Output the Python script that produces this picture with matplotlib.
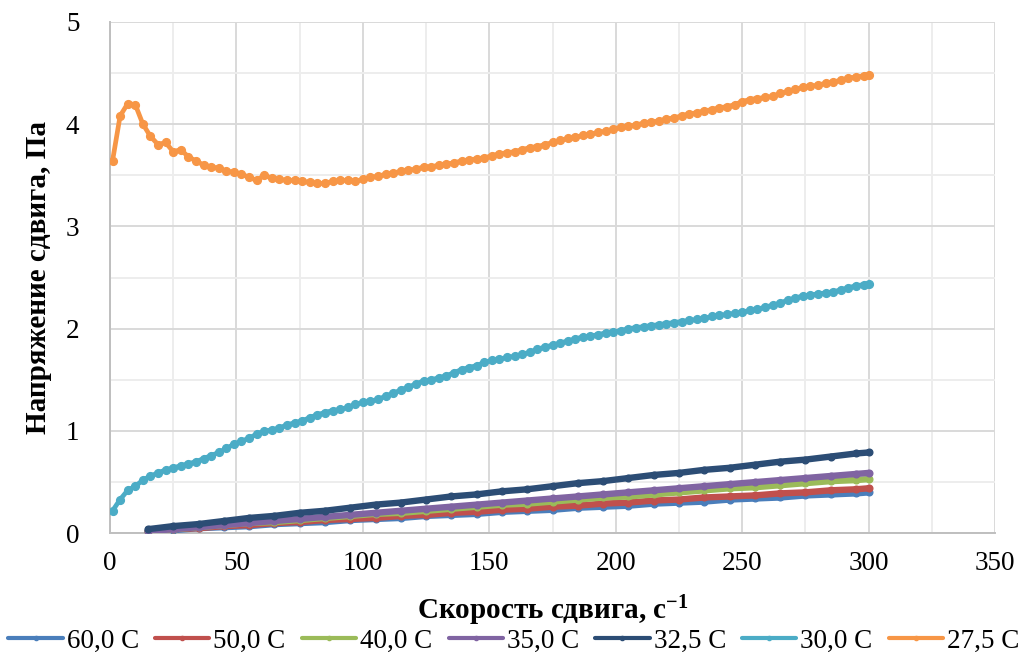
import matplotlib
matplotlib.use("Agg")
import matplotlib.pyplot as plt
from matplotlib.ticker import MultipleLocator

plt.rcParams['font.family'] = ['Liberation Serif', 'DejaVu Serif']
plt.rcParams['mathtext.fontset'] = 'custom'
plt.rcParams['mathtext.rm'] = 'Liberation Serif'
plt.rcParams['mathtext.bf'] = 'Liberation Serif:bold'
plt.rcParams['mathtext.default'] = 'bf'

# shear rate grids
x_fast = [1, 4, 7, 10, 13, 16, 19, 22, 25, 28, 31, 34, 37, 40, 43, 46, 49, 52, 55, 58,
          61, 64, 67, 70, 73, 76, 79, 82, 85, 88, 91, 94, 97, 100, 103, 106, 109, 112, 115, 118,
          121, 124, 127, 130, 133, 136, 139, 142, 145, 148, 151, 154, 157, 160, 163, 166, 169, 172, 175, 178,
          181, 184, 187, 190, 193, 196, 199, 202, 205, 208, 211, 214, 217, 220, 223, 226, 229, 232, 235, 238,
          241, 244, 247, 250, 253, 256, 259, 262, 265, 268, 271, 274, 277, 280, 283, 286, 289, 292, 295, 298, 300]
x_lin = [15, 25, 35, 45, 55, 65, 75, 85, 95, 105, 115, 125, 135, 145, 155, 165, 175, 185, 195, 205,
         215, 225, 235, 245, 255, 265, 275, 285, 295, 300]

y_275 = [3.64, 4.08, 4.20, 4.19, 4.00, 3.88, 3.80, 3.82, 3.73, 3.75, 3.68, 3.64, 3.60, 3.58, 3.57, 3.54, 3.53, 3.51, 3.48, 3.45,
         3.50, 3.47, 3.46, 3.45, 3.45, 3.44, 3.43, 3.42, 3.42, 3.44, 3.45, 3.45, 3.44, 3.46, 3.48, 3.49, 3.51, 3.52, 3.54, 3.55,
         3.56, 3.58, 3.58, 3.60, 3.61, 3.62, 3.64, 3.65, 3.66, 3.67, 3.69, 3.71, 3.72, 3.73, 3.75, 3.77, 3.78, 3.80, 3.82, 3.84,
         3.86, 3.87, 3.89, 3.90, 3.92, 3.93, 3.95, 3.97, 3.98, 3.99, 4.01, 4.02, 4.03, 4.05, 4.06, 4.08, 4.10, 4.11, 4.13, 4.14,
         4.16, 4.17, 4.19, 4.22, 4.24, 4.25, 4.26, 4.27, 4.30, 4.32, 4.34, 4.36, 4.37, 4.38, 4.40, 4.41, 4.43, 4.45, 4.46, 4.47, 4.48]
y_300 = [0.22, 0.33, 0.42, 0.46, 0.52, 0.56, 0.59, 0.62, 0.64, 0.66, 0.68, 0.70, 0.73, 0.76, 0.79, 0.83, 0.87, 0.90, 0.93, 0.97,
         1.00, 1.01, 1.03, 1.06, 1.08, 1.10, 1.13, 1.16, 1.18, 1.20, 1.21, 1.23, 1.26, 1.28, 1.29, 1.31, 1.34, 1.37, 1.40, 1.43,
         1.46, 1.49, 1.50, 1.52, 1.54, 1.57, 1.60, 1.62, 1.64, 1.67, 1.69, 1.70, 1.72, 1.73, 1.75, 1.77, 1.80, 1.82, 1.84, 1.86,
         1.88, 1.90, 1.92, 1.93, 1.94, 1.96, 1.97, 1.98, 2.00, 2.01, 2.02, 2.03, 2.04, 2.05, 2.06, 2.07, 2.08, 2.09, 2.10, 2.12,
         2.13, 2.14, 2.15, 2.16, 2.18, 2.19, 2.21, 2.23, 2.25, 2.28, 2.30, 2.32, 2.33, 2.34, 2.35, 2.36, 2.38, 2.40, 2.42, 2.43, 2.44]
y_325 = [0.04, 0.07, 0.09, 0.12, 0.15, 0.17, 0.20, 0.22, 0.25, 0.28, 0.30, 0.33, 0.36, 0.38, 0.41, 0.43, 0.46, 0.49, 0.51, 0.54,
         0.57, 0.59, 0.62, 0.64, 0.67, 0.70, 0.72, 0.75, 0.78, 0.79]
y_350 = [0.02, 0.04, 0.06, 0.08, 0.10, 0.12, 0.14, 0.16, 0.18, 0.20, 0.22, 0.24, 0.26, 0.28, 0.30, 0.32, 0.34, 0.36, 0.38, 0.40,
         0.42, 0.44, 0.46, 0.48, 0.50, 0.52, 0.54, 0.56, 0.58, 0.59]
y_400 = [0.02, 0.04, 0.06, 0.08, 0.10, 0.11, 0.13, 0.15, 0.17, 0.19, 0.20, 0.22, 0.24, 0.26, 0.28, 0.29, 0.31, 0.33, 0.35, 0.36,
         0.38, 0.40, 0.42, 0.44, 0.45, 0.47, 0.49, 0.51, 0.52, 0.53]
y_500 = [0.02, 0.04, 0.05, 0.07, 0.08, 0.10, 0.11, 0.13, 0.14, 0.15, 0.17, 0.18, 0.20, 0.21, 0.23, 0.24, 0.26, 0.27, 0.29, 0.30,
         0.32, 0.33, 0.35, 0.36, 0.37, 0.39, 0.40, 0.42, 0.43, 0.44]
y_600 = [0.02, 0.03, 0.05, 0.06, 0.07, 0.09, 0.10, 0.11, 0.13, 0.14, 0.15, 0.17, 0.18, 0.19, 0.21, 0.22, 0.23, 0.25, 0.26, 0.27,
         0.29, 0.30, 0.31, 0.33, 0.34, 0.35, 0.37, 0.38, 0.39, 0.40]

labels = ["60,0 C", "50,0 C", "40,0 C", "35,0 C", "32,5 C", "30,0 C", "27,5 C"]
colors = ["#4A7EBB", "#C0504D", "#9BBB59", "#8064A2", "#2C4D75", "#4BACC6", "#F79646"]

series = [(x_lin, y_600), (x_lin, y_500), (x_lin, y_400), (x_lin, y_350),
          (x_lin, y_325), (x_fast, y_300), (x_fast, y_275)]

fig = plt.figure(figsize=(10.28, 6.6), dpi=100)
ax = fig.add_axes([0.107, 0.192, 0.861, 0.775])

for i, ((xs, ys), lab, col) in enumerate(zip(series, labels, colors)):
    if i < 5:
        lw, ms = 4.6, 4.8
    else:
        lw, ms = 3.4, 5.6
    ax.plot(xs, ys, color=col, lw=lw, marker='o', ms=ms, mec=col, mfc=col,
            solid_capstyle='round', solid_joinstyle='round', label=lab, zorder=3 + i)

ax.set_xlim(0, 350)
ax.set_ylim(0, 5)
ax.xaxis.set_major_locator(MultipleLocator(50))
ax.xaxis.set_minor_locator(MultipleLocator(25))
ax.yaxis.set_major_locator(MultipleLocator(1))
ax.yaxis.set_minor_locator(MultipleLocator(0.5))
ax.grid(which='major', color='#D9D9D9', lw=1.4)
ax.grid(which='minor', color='#EDEDED', lw=1.4)
ax.set_axisbelow(True)
for s in ['top', 'right']:
    ax.spines[s].set_visible(False)
for s in ['left', 'bottom']:
    ax.spines[s].set_color('#BFBFBF')
    ax.spines[s].set_linewidth(1.4)
ax.tick_params(which='both', length=0, labelsize=19.5, colors='#000000')
ax.tick_params(axis='x', pad=13)
ax.tick_params(axis='y', pad=22)

ax.set_xlabel('Скорость сдвига, с$^{-1}$', fontsize=21, fontweight='bold', labelpad=12)
ax.set_ylabel('Напряжение сдвига, Па', fontsize=21, fontweight='bold', labelpad=10)

leg = fig.legend(loc='lower center', bbox_to_anchor=(0.5, -0.015), ncol=7, frameon=False,
                 fontsize=19.5, handlelength=2.0, columnspacing=0.6, handletextpad=0.15,
                 borderaxespad=0.2)
for h in leg.legend_handles:
    h.set_linewidth(3)
    h.set_markersize(3)

fig.savefig('out.png', dpi=100)
